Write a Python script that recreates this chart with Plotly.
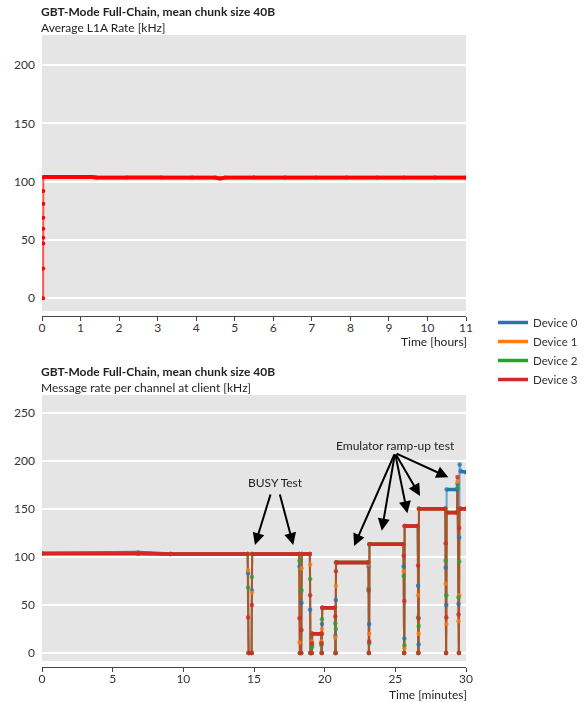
import plotly.graph_objects as go

# ---- Average L1A rate over the full run ----
l1a_hours = [0.030, 0.031, 0.032, 0.032, 0.033, 0.033, 0.034, 0.034, 0.035, 0.036,
             0.30, 0.80, 1.30, 1.40, 2.20, 3.10, 3.90, 4.50, 4.62, 4.75,
             5.50, 6.30, 7.10, 7.90, 8.70, 9.40, 10.20, 11.00]
l1a_khz = [0, 25.5, 47, 52, 59.6, 69, 81, 92, 103.5, 104,
           104, 104, 104, 103.5, 103.5, 103.5, 103.5, 103.5, 102.8, 103.5,
           103.5, 103.5, 103.5, 103.5, 103.5, 103.5, 103.5, 103.5]

# ---- Message rate per channel at client (minutes, kHz) ----
minutes = [0.00, 6.80, 9.10, 14.55, 14.58, 14.62, 14.83, 14.85, 14.87,
           18.20, 18.22, 18.25, 18.34, 18.36, 18.38,
           18.95, 18.97, 18.99, 19.08, 19.10, 19.12,
           19.75, 19.77, 19.79, 19.81, 19.83,
           20.72, 20.75, 20.77, 20.79, 20.81,
           23.08, 23.11, 23.13, 23.15, 23.17,
           25.56, 25.59, 25.62, 25.64, 25.66,
           26.58, 26.61, 26.63, 26.65, 26.67,
           28.53, 28.56, 28.59, 28.61, 28.63,
           29.36, 29.40, 29.47, 29.50, 29.52, 29.55, 29.62, 30.00]
device_0 = [103.5, 104.5, 103, 103, 83, 0, 0, 65, 103,
            103, 90, 0, 0, 52, 103,
            103, 45, 0, 0, 8, 20,
            20, 10, 0, 30, 47,
            47, 18, 0, 55, 94,
            94, 90, 0, 30, 113,
            113, 90, 0, 15, 132,
            132, 70, 0, 9, 150,
            150, 89, 0, 50, 170,
            170, 176, 51, 0, 120, 196, 189, 188]
device_1 = [103.5, 103.5, 103, 103, 86, 0, 0, 63, 103,
            103, 11, 0, 0, 88, 103,
            103, 92, 0, 0, 12, 20,
            20, 12, 0, 25, 47,
            47, 16, 0, 70, 94,
            94, 92, 0, 20, 113,
            113, 85, 0, 5, 132,
            132, 60, 0, 20, 150,
            150, 72, 0, 30, 146,
            146, 178, 33, 0, 60, 150, 150, 150]
device_2 = [103.5, 103.5, 103, 103, 68, 0, 0, 79, 103,
            103, 96, 0, 0, 65, 103,
            103, 77, 0, 0, 6, 20,
            20, 8, 0, 35, 47,
            47, 31, 0, 25, 94,
            94, 67, 0, 10, 113,
            113, 80, 0, 8, 132,
            132, 37, 0, 28, 150,
            150, 96, 0, 60, 146,
            146, 172, 58, 0, 95, 150, 150, 150]
device_3 = [103.5, 103.5, 103, 103, 37, 0, 0, 50, 103,
            103, 36, 0, 0, 24, 103,
            103, 60, 0, 0, 10, 20,
            20, 10, 0, 20, 47,
            47, 38, 0, 85, 94,
            94, 65, 0, 12, 113,
            113, 101, 0, 54, 132,
            132, 91, 0, 36, 150,
            150, 114, 0, 37, 146,
            146, 183, 40, 0, 130, 150, 150, 150]

device_names = ["Device 0", "Device 1", "Device 2", "Device 3"]
device_colors = ["#1f77b4", "#ff7f0e", "#2ca02c", "#d62728"]

# Annotation placements (data coordinates of the lower panel)
busy_label = (16.49, 176.8)
busy_tails = [(16.2, 166.4), (16.8, 166.4)]
busy_heads = [(15.07, 112.3), (17.78, 112.3)]
ramp_label = (24.98, 216.3)
ramp_tail = (24.98, 208.0)
ramp_heads = [(22.08, 111.3), (24.04, 127.2), (25.85, 145.3), (26.75, 163.3), (28.75, 182.7)]

FONT = "Lato"
GRID_BG = "#e5e5e5"
TEXT = "#333333"
TITLE = "#222222"


def split_steps(xs, ys, tol=2.5):
    """Split a sampled series into steady stretches and transitions."""
    fx, fy, jx, jy = [], [], [], []
    for i in range(len(xs) - 1):
        seg = (fx, fy) if abs(ys[i + 1] - ys[i]) <= tol else (jx, jy)
        seg[0].extend([xs[i], xs[i + 1], None])
        seg[1].extend([ys[i], ys[i + 1], None])
    return fx, fy, jx, jy


fig = go.Figure()

# Upper panel: L1A rate
fx, fy, jx, jy = split_steps(l1a_hours, l1a_khz)
fig.add_trace(go.Scatter(x=jx, y=jy, mode="lines", line=dict(color="red", width=2),
                         opacity=0.6, showlegend=False, hoverinfo="skip",
                         xaxis="x", yaxis="y"))
fig.add_trace(go.Scatter(x=fx, y=fy, mode="lines", line=dict(color="red", width=4),
                         showlegend=False, hoverinfo="skip", xaxis="x", yaxis="y"))
fig.add_trace(go.Scatter(x=l1a_hours, y=l1a_khz, mode="markers",
                         marker=dict(color="red", size=4), showlegend=False,
                         xaxis="x", yaxis="y"))

# Lower panel: per-device message rate
series = [device_0, device_1, device_2, device_3]
parts = [split_steps(minutes, s) for s in series]
for (fx, fy, jx, jy), col in zip(parts, device_colors):
    fig.add_trace(go.Scatter(x=jx, y=jy, mode="lines", line=dict(color=col, width=2),
                             opacity=0.6, showlegend=False, hoverinfo="skip",
                             xaxis="x2", yaxis="y2"))
for (fx, fy, jx, jy), s, name, col in zip(parts, series, device_names, device_colors):
    fig.add_trace(go.Scatter(x=fx, y=fy, mode="lines", line=dict(color=col, width=3.5),
                             name=name, legendgroup=name, hoverinfo="skip",
                             xaxis="x2", yaxis="y2"))
    fig.add_trace(go.Scatter(x=minutes, y=s, mode="markers", name=name,
                             marker=dict(color=col, size=4.5), opacity=0.8,
                             legendgroup=name, showlegend=False,
                             xaxis="x2", yaxis="y2"))

# Panel geometry (pixels inside a 587x702 page)
W, H = 587, 702
ML, MR, MT, MB = 42, 121, 35, 35
PH = H - MT - MB
top_dom = [1 - (316 - MT) / PH, 1]
bot_dom = [0, 1 - (395 - MT) / PH]

axis_common = dict(showline=True, linecolor="#444444", linewidth=1, ticks="outside",
                   ticklen=4, tickcolor="#444444", showgrid=False, zeroline=False,
                   ticklabelstandoff=-3,
                   tickfont=dict(family=FONT, size=12, color=TEXT))
yaxis_common = dict(showline=False, ticks="", showgrid=True, gridcolor="white",
                    gridwidth=2, zeroline=False, ticklabelstandoff=6,
                    tickfont=dict(family=FONT, size=12, color=TEXT))

fig.update_layout(
    width=W, height=H,
    margin=dict(l=ML, r=MR, t=MT, b=MB, autoexpand=False),
    paper_bgcolor="white", plot_bgcolor="white",
    font=dict(family=FONT, size=12, color=TEXT),
    xaxis=dict(domain=[0, 1], anchor="y", range=[0, 11], tickvals=list(range(12)),
               **axis_common),
    yaxis=dict(domain=top_dom, anchor="x", range=[-15.2, 225.8],
               tickvals=[0, 50, 100, 150, 200], **yaxis_common),
    xaxis2=dict(domain=[0, 1], anchor="y2", range=[0, 30],
                tickvals=[0, 5, 10, 15, 20, 25, 30], **axis_common),
    yaxis2=dict(domain=bot_dom, anchor="x2", range=[-14.6, 268.3],
                tickvals=[0, 50, 100, 150, 200, 250], **yaxis_common),
    legend=dict(xref="container", yref="container", x=493 / W, y=1 - 308 / H,
                xanchor="left", yanchor="top",
                font=dict(family=FONT, size=11.5, color=TEXT), tracegroupgap=0,
                bgcolor="rgba(0,0,0,0)"),
    showlegend=True,
)

# Grey panel backgrounds that stop just above the axis line
shapes = []
for xr, yr, gap in (("x domain", "y domain", 5 / 281), ("x2 domain", "y2 domain", 6 / 272)):
    shapes.append(dict(type="rect", xref=xr, yref=yr, x0=0, x1=1, y0=gap, y1=1,
                       fillcolor=GRID_BG, line=dict(width=0), layer="below"))
fig.update_layout(shapes=shapes)

ann = []
# Panel titles: bold heading with the quantity on the line below
for ytop, sub in ((MT, "Average L1A Rate [kHz]"), (395, "Message rate per channel at client [kHz]")):
    ann.append(dict(xref="paper", yref="paper", x=0, y=1 - (ytop - 15.5 - MT) / PH,
                    xanchor="left", yanchor="middle", align="left", borderpad=0,
                    text="<b>GBT-Mode Full-Chain, mean chunk size 40B</b><br>" + sub,
                    showarrow=False, xshift=-2,
                    font=dict(family=FONT, size=12, color=TITLE)))
# Axis titles, right aligned
for ypx, txt in ((342, "Time [hours]"), (694.5, "Time [minutes]")):
    ann.append(dict(xref="paper", yref="paper", x=1, y=1 - (ypx - MT) / PH, xanchor="right",
                    yanchor="middle", text=txt, showarrow=False, xshift=2, borderpad=0,
                    font=dict(family=FONT, size=12, color=TITLE)))

arrow_style = dict(showarrow=True, arrowhead=2, arrowsize=1.2, arrowwidth=2,
                   arrowcolor="black", xref="x2", yref="y2", axref="x2", ayref="y2", text="",
                   standoff=0, startstandoff=0)
ann.append(dict(xref="x2", yref="y2", x=busy_label[0], y=busy_label[1], text="BUSY Test",
                showarrow=False, font=dict(family=FONT, size=12, color=TITLE)))
for (tx, ty), (hx, hy) in zip(busy_tails, busy_heads):
    ann.append(dict(x=hx, y=hy, ax=tx, ay=ty, **arrow_style))
ann.append(dict(xref="x2", yref="y2", x=ramp_label[0], y=ramp_label[1],
                text="Emulator ramp-up test", showarrow=False,
                font=dict(family=FONT, size=12, color=TITLE)))
for hx, hy in ramp_heads:
    ann.append(dict(x=hx, y=hy, ax=ramp_tail[0], ay=ramp_tail[1], **arrow_style))

fig.update_layout(annotations=ann)

fig.write_html("out.html")
